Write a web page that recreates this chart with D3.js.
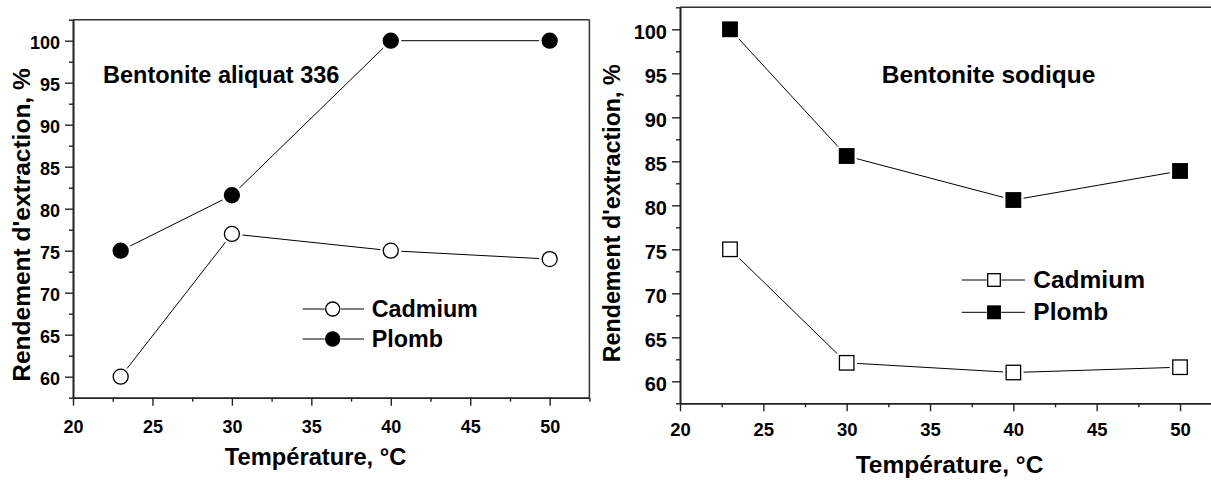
<!DOCTYPE html>
<html>
<head>
<meta charset="utf-8">
<script src="https://cdn.jsdelivr.net/npm/d3@7"></script>
<style>
  body { margin: 0; background: #fff; overflow: hidden; }
  svg { display: block; font-family: "Liberation Sans", Arial, sans-serif; font-weight: bold; }
</style>
</head>
<body>
<svg id="chart" width="1211" height="480"></svg>
<script>
// Données
const temperatures = [23, 30, 40, 50];
const aliquatCadmium = [60, 77, 75, 74];
const aliquatPlomb = [75, 81.6, 100, 100];
const sodiqueCadmium = [75, 62.1, 61, 61.6];
const sodiquePlomb = [100, 85.6, 80.6, 83.9];
const seriesNames = ["Cadmium", "Plomb"];
const xTicks = [20, 25, 30, 35, 40, 45, 50];
const xMinorTicks = [22.5, 27.5, 32.5, 37.5, 42.5, 47.5, 52.5];
const yTicks = [60, 65, 70, 75, 80, 85, 90, 95, 100];
const yMinorTicks = [57.5, 62.5, 67.5, 72.5, 77.5, 82.5, 87.5, 92.5, 97.5, 102.5];
const xDomain = [20, 52.5];
const yDomain = [57.5, 102.5];
const xTitle = "Température, °C";
const yTitle = "Rendement d'extraction, %";

const svg = d3.select("#chart");

// Déplace le point a vers b d'une distance d
function inset(a, b, d) {
  const dx = b[0] - a[0], dy = b[1] - a[1];
  const len = Math.hypot(dx, dy);
  return [a[0] + dx / len * d, a[1] + dy / len * d];
}

// Distance du centre au bord du marqueur dans la direction a->b
function markerReach(a, b, shape, size) {
  if (shape === "circle") return size;
  const dx = b[0] - a[0], dy = b[1] - a[1];
  const len = Math.hypot(dx, dy);
  return size / Math.max(Math.abs(dx / len), Math.abs(dy / len));
}

function drawMarker(g, cx, cy, shape, size, filled) {
  if (shape === "circle") {
    g.append("circle")
      .attr("cx", cx).attr("cy", cy).attr("r", size)
      .attr("fill", filled ? "#000" : "#fff")
      .attr("stroke", "#000").attr("stroke-width", 1.3);
  } else {
    g.append("rect")
      .attr("x", cx - size).attr("y", cy - size)
      .attr("width", size * 2).attr("height", size * 2)
      .attr("fill", filled ? "#000" : "#fff")
      .attr("stroke", "#000").attr("stroke-width", 1.3);
  }
}

function drawPanel(p) {
  const x = d3.scaleLinear().domain(xDomain).range(p.xRange);
  const y = d3.scaleLinear().domain(yDomain).range(p.yRange);
  const g = svg.append("g");

  // Cadre haut et droit
  g.append("line")
    .attr("x1", p.xRange[0]).attr("x2", p.xRange[1])
    .attr("y1", p.yRange[1]).attr("y2", p.yRange[1])
    .attr("stroke", "#333").attr("stroke-width", 1.5);
  g.append("line")
    .attr("x1", p.xRange[1]).attr("x2", p.xRange[1])
    .attr("y1", p.yRange[0]).attr("y2", p.yRange[1])
    .attr("stroke", "#333").attr("stroke-width", 1.5);

  // Axe X
  g.append("g")
    .attr("transform", `translate(0,${p.yRange[0]})`)
    .call(d3.axisBottom(x).tickValues(xMinorTicks).tickSize(4).tickSizeOuter(0).tickFormat(""));
  const xAxis = g.append("g")
    .attr("transform", `translate(0,${p.yRange[0]})`)
    .call(d3.axisBottom(x).tickValues(xTicks).tickSize(8).tickSizeOuter(0).tickPadding(p.xPad));
  xAxis.selectAll("text").style("font-size", p.xTickFont + "px").attr("fill", "#000");

  // Axe Y
  g.append("g")
    .attr("transform", `translate(${p.xRange[0]},0)`)
    .call(d3.axisLeft(y).tickValues(yMinorTicks).tickSize(4).tickSizeOuter(0).tickFormat(""));
  const yAxis = g.append("g")
    .attr("transform", `translate(${p.xRange[0]},0)`)
    .call(d3.axisLeft(y).tickValues(yTicks).tickSize(8).tickSizeOuter(0).tickPadding(5));
  yAxis.selectAll("text").style("font-size", p.yTickFont + "px").attr("fill", "#000").attr("dy", "0.45em");

  g.selectAll(".domain").attr("stroke", "#222").attr("stroke-width", 1.6);
  g.selectAll(".tick line").attr("stroke", "#222").attr("stroke-width", 1.4);
  g.selectAll("text").attr("font-family", null);

  // Séries
  p.series.forEach(s => {
    const pts = temperatures.map((t, i) => [x(t), y(s.values[i])]);
    d3.pairs(pts).forEach(([a, b]) => {
      const a2 = inset(a, b, markerReach(a, b, p.shape, p.markerSize) + 3);
      const b2 = inset(b, a, markerReach(b, a, p.shape, p.markerSize) + 3);
      g.append("line")
        .attr("x1", a2[0]).attr("y1", a2[1]).attr("x2", b2[0]).attr("y2", b2[1])
        .attr("stroke", "#000").attr("stroke-width", 1);
    });
    pts.forEach(pt => drawMarker(g, pt[0], pt[1], p.shape, p.markerSize, s.filled));
  });

  // Titre du panneau
  g.append("text")
    .attr("x", p.title.x).attr("y", p.title.y)
    .style("font-size", p.title.size + "px")
    .text(p.title.text);

  // Légende
  p.series.forEach((s, i) => {
    const ly = p.legend.y[i];
    const mx = p.legend.mx;
    const ms = p.legend.markerSize;
    g.append("line")
      .attr("x1", p.legend.x0).attr("x2", mx - ms - 1).attr("y1", ly).attr("y2", ly)
      .attr("stroke", "#000").attr("stroke-width", 1);
    g.append("line")
      .attr("x1", mx + ms + 1).attr("x2", p.legend.x1).attr("y1", ly).attr("y2", ly)
      .attr("stroke", "#000").attr("stroke-width", 1);
    drawMarker(g, mx, ly, p.shape, ms, s.filled);
    g.append("text")
      .attr("x", p.legend.textX).attr("y", p.legend.baselines[i])
      .style("font-size", p.legend.size + "px")
      .text(s.name);
  });

  // Titres des axes
  g.append("text")
    .attr("x", p.xLabel.x).attr("y", p.xLabel.y)
    .attr("text-anchor", "middle")
    .style("font-size", p.xLabel.size + "px")
    .text(xTitle);
  g.append("text")
    .attr("transform", `translate(${p.yLabel.x},${p.yLabel.y}) rotate(-90)`)
    .attr("text-anchor", "middle")
    .style("font-size", p.yLabel.size + "px")
    .text(yTitle);
}

// Bentonite aliquat 336
drawPanel({
  xRange: [73, 589.4], yRange: [397.7, 19.7],
  xPad: 15, xTickFont: 18, yTickFont: 18,
  shape: "circle", markerSize: 7.5,
  series: [
    { name: seriesNames[0], values: aliquatCadmium, filled: false },
    { name: seriesNames[1], values: aliquatPlomb, filled: true }
  ],
  title: { text: "Bentonite aliquat 336", x: 103, y: 82.5, size: 23.5 },
  legend: { x0: 302.7, x1: 364, mx: 332.7, markerSize: 7, y: [309, 339],
            textX: 371.7, baselines: [317.3, 347.3], size: 23.3 },
  xLabel: { x: 315.6, y: 465.4, size: 23.7 },
  yLabel: { x: 30, y: 225, size: 24.5 }
});

// Bentonite sodique
drawPanel({
  xRange: [680, 1221.7], yRange: [403.3, 7.3],
  xPad: 12, xTickFont: 18.5, yTickFont: 20,
  shape: "square", markerSize: 7.25,
  series: [
    { name: seriesNames[0], values: sodiqueCadmium, filled: false },
    { name: seriesNames[1], values: sodiquePlomb, filled: true }
  ],
  title: { text: "Bentonite sodique", x: 881.7, y: 83, size: 24.5 },
  legend: { x0: 961.7, x1: 1025, mx: 994, markerSize: 6.3, y: [280, 312.3],
            textX: 1033.3, baselines: [288.3, 320], size: 24.5 },
  xLabel: { x: 949.5, y: 473, size: 24.5 },
  yLabel: { x: 620, y: 213.3, size: 23.3 }
});
</script>
</body>
</html>
